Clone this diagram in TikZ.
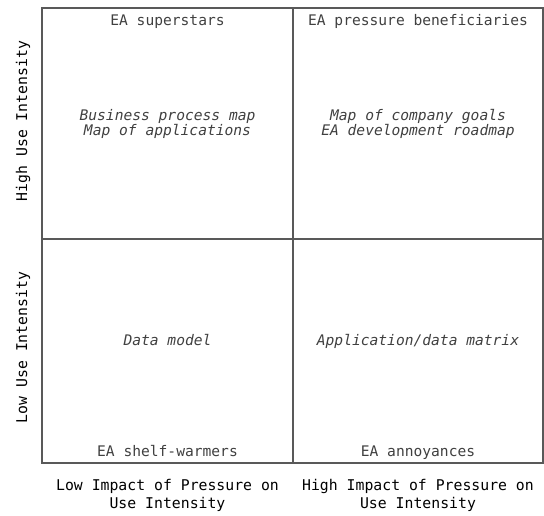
\documentclass[tikz,border=0pt]{standalone}
\usepackage{fontspec}
\setmonofont{DejaVu Sans Mono}
\begin{document}
\begin{tikzpicture}[x=1pt,y=-1pt,
  grid/.style={draw=black!65, line width=1.2pt},
  qlabel/.style={font=\ttfamily\fontsize{14.6}{15}\selectfont, text=black!75, inner sep=0pt, anchor=base},
  qitems/.style={font=\ttfamily\itshape\fontsize{14.6}{15}\selectfont, text=black!75, inner sep=0pt, anchor=base},
  axlabel/.style={font=\ttfamily\fontsize{14.8}{18}\selectfont, text=black, inner sep=0pt, anchor=base},
  ylabel/.style={font=\ttfamily\fontsize{14.8}{18}\selectfont, text=black, inner sep=0pt, rotate=90}]
\useasboundingbox (0,0) rectangle (544,515);
\coordinate (tl) at (42,8);
\coordinate (br) at (543,463);
\coordinate (mt) at (293,8);
\coordinate (mb) at (293,463);
\coordinate (ml) at (42,239);
\coordinate (mr) at (543,239);
\draw[grid] (tl) rectangle (br);
\draw[grid] (mt) -- (mb);
\draw[grid] (ml) -- (mr);
% top-left
\node[qlabel] (ss) at (167.5,25.5) {EA superstars};
\node[qitems] (ssi1) at (167.5,120.5) {Business process map};
\node[qitems] (ssi2) at (167.5,135) {Map of applications};
% top-right
\node[qlabel] (pb) at (418,25.5) {EA pressure beneficiaries};
\node[qitems] (pbi1) at (418,120.5) {Map of company goals};
\node[qitems] (pbi2) at (418,135) {EA development roadmap};
% bottom-left
\node[qitems] (swi) at (167.5,345) {Data model};
\node[qlabel] (sw) at (167.5,456) {EA shelf-warmers};
% bottom-right
\node[qitems] (ani) at (418,345) {Application/data matrix};
\node[qlabel] (an) at (418,456) {EA annoyances};
% axes
\node[axlabel] (xl1) at (167.5,490) {Low Impact of Pressure on};
\node[axlabel] (xl2) at (167.5,508) {Use Intensity};
\node[axlabel] (xh1) at (418,490) {High Impact of Pressure on};
\node[axlabel] (xh2) at (418,508) {Use Intensity};
\node[ylabel] (yh) at (23,121) {High Use Intensity};
\node[ylabel] (yl) at (23,347.5) {Low Use Intensity};
\end{tikzpicture}
\end{document}
